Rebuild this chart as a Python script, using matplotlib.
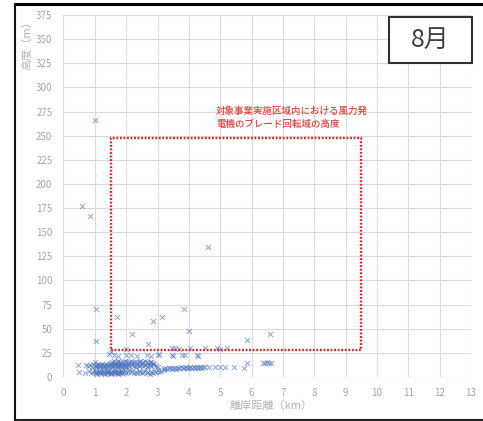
import numpy as np
import matplotlib
matplotlib.use("Agg")
import matplotlib.pyplot as plt
from matplotlib.patches import Rectangle
from matplotlib.lines import Line2D

plt.rcParams['font.family'] = ['Noto Sans CJK JP', 'DejaVu Sans']

# ---- data: offshore distance (km) vs flight height (m) ----
# isolated observations
outlier_km = [1.0, 0.6, 0.85, 1.05, 1.05, 1.7, 2.2, 2.7, 2.85, 3.15, 3.85, 4.0, 4.6, 5.85, 6.6]
outlier_m = [266, 177, 167, 70, 37, 62, 45, 34, 58, 62, 70, 48, 135, 38, 45]

# observations just above the rotor-zone floor
row30_km = [2.0, 3.46, 3.56, 3.67, 4.04, 4.52, 4.89, 5.0, 5.21, 1.5]
row30_m = [29, 30, 30, 29, 30, 30, 30, 29, 30, 26]

row23_km = [1.45, 1.6, 1.75, 2.0, 2.15, 2.35, 2.65, 2.8, 3.0, 3.05, 3.46, 3.5, 3.78, 3.88, 4.26, 4.3]
row23_m = [24, 23, 22, 23, 23, 22, 23, 22, 23, 24, 23, 22, 23, 23, 23, 22]

# low-altitude flights near the coast
band_upper_km = [0.45, 0.72, 0.78, 0.85, 0.9, 0.95, 1.0, 1.03, 1.05, 1.08, 1.1, 1.13, 1.15,
                 1.18, 1.2, 1.23, 1.25, 1.28, 1.3, 1.33, 1.35, 1.38, 1.4, 1.43, 1.45,
                 1.48, 1.5, 1.53, 1.55, 1.58, 1.6, 1.63, 1.65, 1.68, 1.7, 1.73, 1.75,
                 1.78, 1.8, 1.83, 1.85, 1.88, 1.9, 1.93, 1.95, 1.98, 2.0, 2.05, 2.1,
                 2.15, 2.2, 2.25, 2.3, 2.35, 2.4, 2.45, 2.5, 2.55, 2.6, 2.65, 2.7,
                 2.75, 2.8, 2.85, 2.9, 2.95, 3.0]
band_upper_m = [12, 12, 11, 12, 10, 13, 11, 12, 10, 11, 13, 12, 10,
                11, 12, 13, 11, 10, 12, 11, 13, 12, 10, 11, 12,
                13, 11, 12, 10, 11, 12, 13, 11, 12, 11, 10, 12,
                11, 13, 12, 11, 10, 12, 11, 12, 11, 10, 12, 11,
                13, 12, 11, 10, 12, 11, 12, 13, 11, 12, 10, 11,
                12, 11, 13, 12, 11, 10]

band_lower_km = [0.5, 0.7, 0.82, 0.88, 0.95, 1.0, 1.03, 1.05, 1.08, 1.1, 1.13, 1.15, 1.18,
                 1.2, 1.23, 1.25, 1.28, 1.3, 1.33, 1.35, 1.38, 1.4, 1.43, 1.45, 1.48,
                 1.5, 1.53, 1.55, 1.58, 1.6, 1.63, 1.65, 1.68, 1.7, 1.73, 1.75, 1.78,
                 1.8, 1.83, 1.85, 1.88, 1.9, 1.95, 2.0, 2.05, 2.1, 2.15, 2.2, 2.25,
                 2.3, 2.35, 2.4, 2.45, 2.5, 2.55, 2.6, 2.65, 2.7, 2.75, 2.8, 2.85,
                 2.9, 2.95, 3.0, 3.05, 3.1, 3.2]
band_lower_m = [5, 4, 6, 4, 5, 6, 4, 5, 3, 5, 6, 4, 5,
                4, 6, 5, 4, 5, 3, 6, 5, 4, 5, 6, 4,
                5, 3, 4, 6, 5, 4, 5, 6, 4, 5, 3, 5,
                4, 6, 5, 4, 5, 6, 4, 5, 7, 5, 6, 4,
                5, 4, 6, 5, 4, 5, 6, 4, 5, 3, 5, 4,
                6, 5, 7, 5, 6, 7]

band_mid_km = [1.0, 1.5, 1.55, 1.6, 1.65, 1.7, 1.75, 1.8, 1.85, 1.9, 1.95, 2.0, 2.05,
               2.1, 2.15, 2.2, 2.25, 2.3, 2.35, 2.4, 2.45, 2.5, 2.55, 2.6, 2.65,
               2.7, 2.75, 2.8, 2.85]
band_mid_m = [16, 15, 16, 17, 15, 16, 17, 16, 15, 16, 17, 16, 15,
              16, 17, 15, 16, 16, 15, 16, 17, 15, 16, 17, 16,
              15, 16, 16, 15]

offshore_km = [3.2, 3.25, 3.3, 3.35, 3.4, 3.45, 3.5, 3.55, 3.6, 3.65, 3.7, 3.75, 3.8,
               3.85, 3.9, 3.95, 4.0, 4.05, 4.1, 4.15, 4.2, 4.25, 4.3, 4.35, 4.4,
               4.45, 4.5, 4.63, 4.84, 5.0, 5.16, 5.43,
               5.77, 5.85, 6.35, 6.42, 6.48, 6.55, 6.62]
offshore_m = [8, 9, 8, 9, 9, 8, 9, 9, 8, 9, 9, 10, 9,
              9, 10, 9, 9, 10, 9, 10, 9, 10, 9, 10, 9,
              10, 10, 10, 10, 10, 10, 10,
              9, 15, 15, 15, 16, 15, 15]

# rotor-swept zone of the planned turbines
zone_km = (1.5, 9.5)
zone_m = (28, 248)

x_ticks = list(range(0, 14))
y_ticks = list(range(0, 376, 25))

# ---- figure ----
W, H = 483, 421
fig = plt.figure(figsize=(W / 100, H / 100), dpi=100)
ax = fig.add_axes([63.5 / W, 1 - 377 / H, (471 - 63.5) / W, (377 - 15) / H])

ax.set_xlim(0, 13)
ax.set_ylim(0, 375)
ax.set_xticks(x_ticks)
ax.set_yticks(y_ticks)
ax.grid(True, color='#dcdcdc', linewidth=0.8)
ax.set_axisbelow(True)
for s in ax.spines.values():
    s.set_visible(False)
ax.tick_params(length=0, labelsize=7, labelcolor='#a8a8a8')
ax.tick_params(axis='y', pad=8)
ax.tick_params(axis='x', pad=8)

all_km = (outlier_km + row30_km + row23_km + band_upper_km + band_lower_km
          + band_mid_km + offshore_km)
all_m = (outlier_m + row30_m + row23_m + band_upper_m + band_lower_m
         + band_mid_m + offshore_m)
ax.scatter(all_km, all_m, marker='x', s=13, linewidths=0.75,
           color='#4a72bf', alpha=0.6, zorder=3)

ax.add_patch(Rectangle((zone_km[0], zone_m[0]), zone_km[1] - zone_km[0],
                       zone_m[1] - zone_m[0], fill=False, edgecolor='#d42a2a',
                       linewidth=1.7, linestyle=(0, (0.8, 0.7)), zorder=4))

red = '#e0403a'
fig.text(216 / W, 1 - 111 / H, '対象事業実施区域内における風力発',
         fontsize=6.8, color=red, va='center', ha='left', fontweight='medium')
fig.text(216 / W, 1 - 124 / H, '電機のブレード回転域の高度',
         fontsize=6.8, color=red, va='center', ha='left', fontweight='medium')

# axis titles
fig.text(27 / W, 1 - 43 / H, '高度（m）', rotation=90, fontsize=8,
         color='#b5b5b5', va='center', ha='center')
fig.text(271 / W, 1 - 406 / H, '離岸距離（km）', fontsize=8,
         color='#b5b5b5', va='center', ha='center')

# month label box
fig.patches.append(Rectangle((389 / W, 1 - 63.3 / H), 83 / W, 46.6 / H,
                             transform=fig.transFigure, facecolor='white',
                             edgecolor='#303030', linewidth=1.5, zorder=5))
fig.text(430.5 / W, 1 - 40 / H, '8月', fontsize=18, color='#404040',
         va='center', ha='center', zorder=6)

# outer frame
fig.lines.append(Line2D([15 / W, 1], [1 - 3.5 / H, 1 - 3.5 / H],
                        transform=fig.transFigure, color='black', linewidth=2.2))
fig.lines.append(Line2D([15 / W, 15 / W], [0, 1 - 3.5 / H],
                        transform=fig.transFigure, color='#111111', linewidth=1.5))
fig.lines.append(Line2D([15 / W, 1], [1 - 419.5 / H, 1 - 419.5 / H],
                        transform=fig.transFigure, color='#222222', linewidth=1.5))

fig.savefig('out.png', dpi=100)
